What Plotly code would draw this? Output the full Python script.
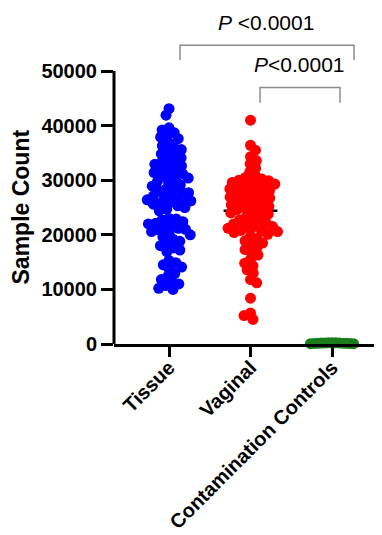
import numpy as np
import plotly.graph_objects as go

categories = ["Tissue", "Vaginal", "Contamination Controls"]

tissue = [43100, 41900, 39600, 39200, 38700, 38200, 37900, 37600, 36800, 36300,
          35900, 35600, 35200, 34800, 34500, 34100, 33700, 33300, 33000, 32900,
          32600, 32300, 32000, 31700, 31400, 31200, 31000, 30700, 30400, 30100,
          29800, 29500, 29200, 28900, 28600, 28300, 28000, 27900, 27700, 27400,
          27100, 26800, 26600, 26500, 26400, 26200, 25900, 25700, 25600, 25300,
          25000, 24700, 24400, 23000, 22900, 22700, 22400, 22100, 22000, 21800,
          21500, 21200, 21000, 20900, 20600, 20300, 20000, 19600, 19200, 18800,
          18400, 18000, 17600, 17200, 16900, 15300, 14900, 14500, 14100, 13700,
          12900, 12400, 11800, 11300, 11000, 10700, 10200, 10000]

vaginal = [41000, 36400, 35500, 34300, 33600, 33000, 32200, 31500, 30800, 30500,
           30200, 30000, 29900, 29800, 29600, 29300, 29100, 29000, 28800, 28700,
           28400, 28300, 28100, 27800, 27600, 27500, 27300, 27000, 26900, 26700,
           26400, 26200, 26100, 25800, 25600, 25500, 25200, 25000, 24900, 24600,
           24400, 24300, 24000, 23800, 23500, 23200, 23000, 22700, 22400, 22100,
           22000, 21800, 21700, 21500, 21200, 21000, 20800, 20700, 20600, 20400,
           20100, 19700, 19300, 18900, 18500, 18100, 17700, 17300, 16800, 16300,
           15500, 14800, 14300, 13600, 13000, 11800, 11200, 8400, 5700, 5200, 4500]

controls = [150, 100, 200, 50, 250, 120, 180, 90, 210, 140, 60, 230, 170]

y_ticks = [0, 10000, 20000, 30000, 40000, 50000]
p_labels = ["<i>P</i> &lt;0.0001", "<i>P</i>&lt;0.0001"]

colors = ["#0000FF", "#FF0000", "#1A7F1A"]
groups = [tissue, vaginal, controls]
swarm_gap = [7.2, 7.0, 3.6]

# pixel geometry (the page body adds an 8px offset at top-left)
OFF = 8
W, H = 382 - OFF, 535 - OFF
ML, MR, MT, MB = 114 - OFF, 0, 10 - OFF, 191
plot_w = W - ML - MR
plot_h = H - MT - MB
px_per_cat = 81.5
x_lo = -0.675
x_hi = x_lo + plot_w / px_per_cat
y_px_per_unit = 273 / 50000
y_hi = plot_h / y_px_per_unit


def swarm(values, d):
    ys = np.asarray(values, dtype=float) * y_px_per_unit
    order = np.argsort(-ys, kind="stable")
    placed = []
    offs = np.zeros(len(ys))
    for k, i in enumerate(order):
        y = ys[i]
        cands = [0.0]
        for (xj, yj) in placed:
            dy = abs(y - yj)
            if dy < d:
                dx = np.sqrt(d * d - dy * dy)
                cands += [xj + dx, xj - dx]
        sgn = 1 if k % 2 == 0 else -1
        cands.sort(key=lambda c: (round(abs(c), 4), -sgn * c))
        for c in cands:
            if all((c - xj) ** 2 + (y - yj) ** 2 >= d * d - 1e-6 for (xj, yj) in placed):
                offs[i] = c
                placed.append((c, y))
                break
    return offs / px_per_cat


fig = go.Figure()

# medians (drawn below the points)
for gi, vals in enumerate(groups[:2]):
    m = float(np.median(vals))
    fig.add_trace(go.Scatter(x=[gi - 0.33, gi + 0.33], y=[m, m], mode="lines",
                             line=dict(color="black", width=2.5), hoverinfo="skip",
                             showlegend=False))

for gi, vals in enumerate(groups):
    offs = swarm(vals, swarm_gap[gi])
    fig.add_trace(go.Scatter(x=gi + offs, y=vals, mode="markers",
                             marker=dict(size=11, color=colors[gi], line=dict(width=0)),
                             cliponaxis=False, showlegend=False))

# y axis line (only 0..50000)
fig.add_shape(type="line", xref="paper", yref="paper", x0=0, x1=0,
              y0=0, y1=y_ticks[-1] / y_hi, line=dict(color="black", width=3))

# significance brackets
gray = "#8C8C8C"
brackets = [
    (0 + 0.135, 2 + 0.27, 54700, 52000),
    (1 + 0.117, 2 + 0.098, 47000, 44200),
]
for (xa, xb, ytop, yleg) in brackets:
    fig.add_shape(type="path", xref="x", yref="y",
                  path=f"M {xa},{yleg} L {xa},{ytop} L {xb},{ytop} L {xb},{yleg}",
                  line=dict(color=gray, width=1.5))

fig.add_annotation(x=1.19, y=58850, xref="x", yref="y", text=p_labels[0], showarrow=False,
                   font=dict(family="Liberation Sans", size=21, color="black"))
fig.add_annotation(x=1.607, y=51150, xref="x", yref="y", text=p_labels[1], showarrow=False,
                   font=dict(family="Liberation Sans", size=21, color="black"))

# y title
fig.add_annotation(x=-(ML - (20 - OFF)) / plot_w, y=25000, xref="paper", yref="y",
                   text="Sample Count", textangle=-90, showarrow=False,
                   xanchor="center", yanchor="middle",
                   font=dict(family="Liberation Sans", size=23, color="black", weight="bold"))

fig.update_layout(
    width=W, height=H,
    margin=dict(l=ML, r=MR, t=MT, b=MB, pad=0, autoexpand=False),
    paper_bgcolor="white", plot_bgcolor="white",
    xaxis=dict(range=[x_lo, x_hi], tickvals=[0, 1, 2], ticktext=categories,
               tickangle=-45, showline=True, linewidth=3, linecolor="black",
               ticks="outside", ticklen=10, tickwidth=3, tickcolor="black",
               showgrid=False, zeroline=False, automargin=False, ticklabelstandoff=-9,
               tickfont=dict(family="Liberation Sans", size=20, color="black", weight="bold")),
    yaxis=dict(range=[0, y_hi], tickvals=y_ticks, ticktext=[str(v) for v in y_ticks],
               showline=False, ticks="outside", ticklen=12, tickwidth=3, tickcolor="black",
               showgrid=False, zeroline=False, automargin=False,
               tickfont=dict(family="Liberation Sans", size=20, color="black", weight="bold")),
)

fig.write_html("out.html")
